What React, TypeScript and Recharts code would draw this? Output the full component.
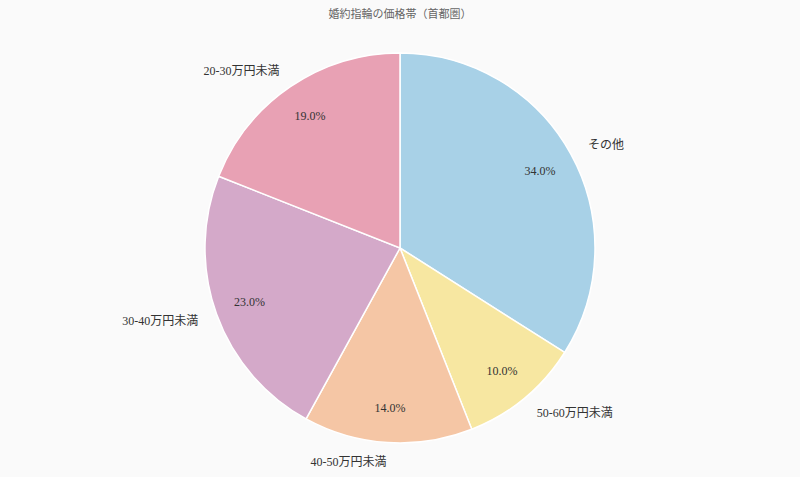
import { Pie, PieChart, Cell } from "recharts";

const categories = ["その他", "50-60万円未満", "40-50万円未満", "30-40万円未満", "20-30万円未満"];
const shares = [34, 10, 14, 23, 19];
const palette = ["#a8d1e7", "#f7e7a1", "#f5c6a5", "#d4a9c9", "#e8a1b4"];

const data = categories.map((name, i) => ({ name, value: shares[i] }));

const RADIAN = Math.PI / 180;
const font = "'Liberation Serif', 'Noto Sans CJK JP', serif";

function renderLabel(props: any) {
  const { cx, cy, midAngle, outerRadius, name, percent } = props;
  const cos = Math.cos(-midAngle * RADIAN);
  const sin = Math.sin(-midAngle * RADIAN);
  const ox = cx + outerRadius * 1.1 * cos;
  const oy = cy + outerRadius * 1.1 * sin;
  const ix = cx + outerRadius * 0.82 * cos;
  const iy = cy + outerRadius * 0.82 * sin;
  return (
    <g>
      <text
        x={ox}
        y={oy}
        textAnchor={ox > cx ? "start" : "end"}
        dominantBaseline="central"
        fontSize={12}
        fill="#333"
        fontFamily={font}
      >
        {name}
      </text>
      <text
        x={ix}
        y={iy}
        textAnchor="middle"
        dominantBaseline="central"
        fontSize={12}
        fill="#333"
        fontFamily={font}
      >
        {(percent * 100).toFixed(1)}%
      </text>
    </g>
  );
}

export default function App() {
  return (
    <div style={{ position: "fixed", left: 0, top: 0, width: 800, height: 477, background: "#fafafa" }}>
      <div
        style={{
          position: "absolute",
          top: 5,
          width: 800,
          textAlign: "center",
          fontSize: 11,
          color: "#666",
          fontFamily: font,
        }}
      >
        婚約指輪の価格帯（首都圏）
      </div>
      <PieChart width={800} height={477} margin={{ top: 0, right: 0, bottom: 0, left: 0 }}>
        <Pie
          data={data}
          dataKey="value"
          nameKey="name"
          cx={400}
          cy={248}
          outerRadius={195}
          startAngle={90}
          endAngle={-270}
          stroke="#ffffff"
          strokeWidth={1.5}
          label={renderLabel}
          labelLine={false}
          isAnimationActive={false}
        >
          {data.map((entry, index) => (
            <Cell key={entry.name} fill={palette[index]} />
          ))}
        </Pie>
      </PieChart>
    </div>
  );
}
